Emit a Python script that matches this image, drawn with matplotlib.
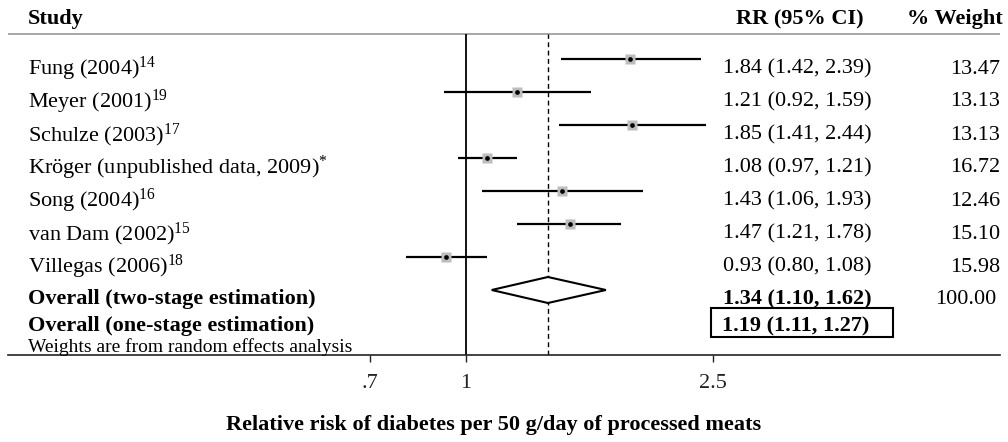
import matplotlib
matplotlib.use("Agg")
import math
import matplotlib.pyplot as plt
from matplotlib.transforms import blended_transform_factory
from matplotlib.patches import Polygon, Rectangle

plt.rcParams['font.family'] = ['Liberation Serif', 'DejaVu Serif']
plt.rcParams['mathtext.fontset'] = 'custom'
plt.rcParams['mathtext.rm'] = 'Liberation Serif'
plt.rcParams['mathtext.it'] = 'Liberation Serif:italic'
plt.rcParams['mathtext.bf'] = 'Liberation Serif:bold'

# ---------------- data ----------------
studies = ["Fung (2004)", "Meyer (2001)", "Schulze (2003)",
           "Kröger (unpublished data, 2009)", "Song (2004)",
           "van Dam (2002)", "Villegas (2006)"]
refs = ["14", "19", "17", "*", "16", "15", "18"]
rr = [1.84, 1.21, 1.85, 1.08, 1.43, 1.47, 0.93]
ci_lo = [1.42, 0.92, 1.41, 0.97, 1.06, 1.21, 0.80]
ci_hi = [2.39, 1.59, 2.44, 1.21, 1.93, 1.78, 1.08]
rr_text = ["1.84 (1.42, 2.39)", "1.21 (0.92, 1.59)", "1.85 (1.41, 2.44)",
           "1.08 (0.97, 1.21)", "1.43 (1.06, 1.93)", "1.47 (1.21, 1.78)",
           "0.93 (0.80, 1.08)"]
weights = ["13.47", "13.13", "13.13", "16.72", "12.46", "15.10", "15.98"]

overall_label = "Overall (two-stage estimation)"
overall_lo, overall_mid, overall_hi = 1.10, 1.355, 1.68
overall_text = "1.34 (1.10, 1.62)"
overall_weight = "100.00"

onestage_label = "Overall (one-stage estimation)"
onestage_text = "1.19 (1.11, 1.27)"

xticks = [0.7, 1.0, 2.5]
xticklabels = [".7", "1", "2.5"]
xlabel = "Relative risk of diabetes per 50 g/day of processed meats"
note = "Weights are from random effects analysis"

# ---------------- layout ----------------
W, H = 1008, 442
fig = plt.figure(figsize=(W / 100, H / 100), dpi=100)

def fx(px):
    return px / W

ax_left, ax_right, ax_bottom_px = 8, 1000, 355
ax = fig.add_axes([fx(ax_left), 1 - ax_bottom_px / H, fx(ax_right - ax_left), ax_bottom_px / H])
ax.set_xscale('log')
ppl = 269.6  # pixels per ln unit
x1_px = 466
ax.set_xlim(math.exp((ax_left - x1_px) / ppl), math.exp((ax_right - x1_px) / ppl))

row0_px, row_step = 59, 33
def rowy(px):
    return (px - row0_px) / row_step
ax.set_ylim(rowy(ax_bottom_px), rowy(0))

for s in ['top', 'left', 'right']:
    ax.spines[s].set_visible(False)
ax.spines['bottom'].set_linewidth(1.2)
ax.spines['bottom'].set_color('#222222')
ax.set_yticks([])
ax.set_xticks(xticks)
ax.set_xticklabels(xticklabels, fontsize=16)
ax.minorticks_off()
ax.tick_params(axis='x', direction='out', length=5, width=1, pad=9, colors='#222222')

tr = blended_transform_factory(fig.transFigure, ax.transData)

# header
hdr_y = rowy(19)
ax.text(fx(28), hdr_y, "Study", transform=tr, fontsize=16, fontweight='bold', va='center', ha='left')
ax.text(fx(800), hdr_y, "RR (95% CI)", transform=tr, fontsize=16, fontweight='bold', va='center', ha='center')
ax.text(fx(1003), hdr_y, "% Weight", transform=tr, fontsize=16, fontweight='bold', va='center', ha='right')
ax.axhline(rowy(34), color='#a0a0a0', lw=1.3)

top_y = rowy(34)
bot_y = rowy(ax_bottom_px)
ax.vlines(1.0, bot_y, top_y, color='black', lw=1.3)
ax.vlines(overall_mid, bot_y, top_y, color='black', lw=1.0, linestyles=(0, (3.5, 2.5)))

txt_off = 10 / row_step
for i in range(len(studies)):
    ax.hlines(i, ci_lo[i], ci_hi[i], color='black', lw=1.6)
    ax.plot(rr[i], i, marker='s', ms=6.5, color='#bdbdbd', mec='none', zorder=3)
    ax.plot(rr[i], i, marker='o', ms=3.4, color='black', mec='none', zorder=4)
    ax.text(fx(28), i + txt_off, studies[i] + r"$^{\mathrm{" + refs[i] + "}}$",
            transform=tr, fontsize=16, va='center', ha='left')
    ax.text(fx(723), i + txt_off, rr_text[i], transform=tr, fontsize=16, va='center', ha='left')
    ax.text(fx(1000), i + txt_off, weights[i], transform=tr, fontsize=16, va='center', ha='right')

# overall two-stage
oy = len(studies)
dh = 13 / row_step
diamond = Polygon([[overall_lo, oy], [overall_mid, oy - dh], [overall_hi, oy], [overall_mid, oy + dh]],
                  closed=True, fill=True, facecolor='white', edgecolor='black', lw=1.5, zorder=3)
ax.add_patch(diamond)
ax.text(fx(28), oy + 9 / row_step, overall_label, transform=tr, fontsize=16, fontweight='bold', va='center', ha='left')
ax.text(fx(723), oy + 9 / row_step, overall_text, transform=tr, fontsize=16, fontweight='bold', va='center', ha='left')
ax.text(fx(996), oy + 9 / row_step, overall_weight, transform=tr, fontsize=16, va='center', ha='right')

# overall one-stage
sy = rowy(326)
ax.text(fx(28), sy, onestage_label, transform=tr, fontsize=16, fontweight='bold', va='center', ha='left')
ax.text(fx(722), sy, onestage_text, transform=tr, fontsize=16, fontweight='bold', va='center', ha='left')
box = Rectangle((fx(711), rowy(337)), fx(893 - 711), rowy(308) - rowy(337), transform=tr,
                fill=False, edgecolor='black', lw=1.5, zorder=3)
ax.add_patch(box)

ax.text(fx(28), rowy(347), note, transform=tr, fontsize=14, va='center', ha='left')

fig.text(fx(494), 1 - 425 / H, xlabel, fontsize=16, fontweight='bold', ha='center', va='center')

fig.savefig("out.png", dpi=100)
